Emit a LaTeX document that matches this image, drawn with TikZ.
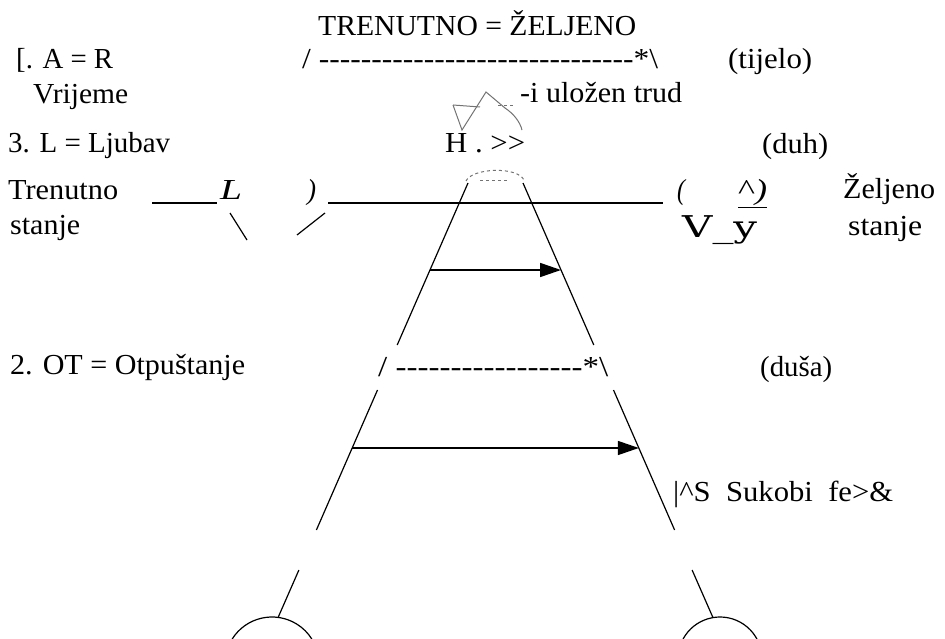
\documentclass[tikz,border=0pt]{standalone}
\usepackage{fontspec}
\setmainfont{Liberation Serif}
\newfontfamily\vyfont{DejaVu Serif}
\usetikzlibrary{arrows.meta}
\newcommand\fitw[2]{\resizebox{#1pt}{\height}{#2}}
\begin{document}
\begin{tikzpicture}[x=1pt,y=-1pt,
  lbl/.style={inner sep=0pt, anchor=base west, font=\fontsize{29}{32}\selectfont},
  edge/.style={line width=1.2pt},
  rule/.style={line width=1.2pt},
  flow/.style={line width=1.7pt, -{Triangle[length=21pt,width=14pt]}},
  faint/.style={line width=1pt, black!55}]
\useasboundingbox (0,0) rectangle (945,639);

% texts
\node[lbl] (title) at (318,36) {\fitw{318}{TRENUTNO = ŽELJENO}};
\node[lbl] (ar) at (16,69) {\fitw{97}{[. A = R}};
\node[lbl] (topdash) at (302,69) {\fitw{356}{/ -{}-{}-{}-{}-{}-{}-{}-{}-{}-{}-{}-{}-{}-{}-{}-{}-{}-{}-{}-{}-{}-{}-{}-{}-{}-{}-{}-{}-{}-*\textbackslash}};
\node[lbl] (tijelo) at (728,69) {\fitw{84}{(tijelo)}};
\node[lbl] (vrijeme) at (33,104) {\fitw{95}{Vrijeme}};
\node[lbl] (trud) at (520,103) {\fitw{162}{-i uložen trud}};
\node[lbl] (ljubav) at (8,153) {\fitw{162}{3. L = Ljubav}};
\node[lbl] (hgt) at (445,153) {\fitw{80}{H . >{}>}};
\node[lbl] (duh) at (762,154) {\fitw{66}{(duh)}};
\node[lbl] (trenutno) at (8,200) {\fitw{110}{Trenutno}};
\node[lbl] (litL) at (220,200) {\fitw{22}{\itshape L}};
\node[lbl] (rpar) at (307,200) {\fitw{9}{\itshape )}};
\node[lbl] (lpar) at (677,200) {\fitw{8}{\itshape (}};
\node[lbl] (caret) at (738,200) {\fitw{29}{\underline{\textasciicircum\itshape )}}};
\node[lbl] (zeljeno) at (843,199) {\fitw{92}{Željeno}};
\node[lbl] (stanjeL) at (10,234) {\fitw{70}{stanje}};
\node[lbl, font=\vyfont\fontsize{30}{32}\selectfont] (vy) at (682,238) {\fitw{75}{V\_y}};
\node[lbl] (stanjeR) at (848,236) {\fitw{74}{stanje}};
\node[lbl] (ot) at (10,374) {\fitw{235}{2. OT = Otpuštanje}};
\node[lbl] (lowdash) at (378,376) {\fitw{230}{/ -{}-{}-{}-{}-{}-{}-{}-{}-{}-{}-{}-{}-{}-{}-{}-{}-*\textbackslash}};
\node[lbl] (dusa) at (760,376) {\fitw{72}{(duša)}};
\node[lbl] (sukobi) at (673,501) {\fitw{220}{|\textasciicircum S\ \ Sukobi\ \ fe>\&}};

% underscore rules and marks
\coordinate (u1a) at (152,203); \coordinate (u1b) at (217,203);
\coordinate (u2a) at (328,203); \coordinate (u2b) at (663,203);
\draw[rule] (u1a) -- (u1b);
\draw[rule] (u2a) -- (u2b);
\coordinate (bs1) at (230,213); \coordinate (bs2) at (247,240);
\coordinate (sl1) at (297,235); \coordinate (sl2) at (325,213);
\draw[rule] (bs1) -- (bs2);
\draw[rule] (sl1) -- (sl2);

% trapezoid sides
\coordinate (L1) at (468,183);   \coordinate (L2) at (397.2,345);
\coordinate (L3) at (377.5,390); \coordinate (L4) at (316.4,530);
\coordinate (L5) at (298.9,570); \coordinate (L6) at (278.3,617);
\coordinate (R1) at (523,183);   \coordinate (R2) at (593.8,345);
\coordinate (R3) at (613.5,390); \coordinate (R4) at (674.6,530);
\coordinate (R5) at (692.1,570); \coordinate (R6) at (712.7,617);
\draw[edge] (L1) -- (L2);
\draw[edge] (L3) -- (L4);
\draw[edge] (L5) -- (L6);
\draw[edge] (R1) -- (R2);
\draw[edge] (R3) -- (R4);
\draw[edge] (R5) -- (R6);

% arrows
\coordinate (a1s) at (430,270); \coordinate (a1e) at (561,270);
\coordinate (a2s) at (352.2,448); \coordinate (a2e) at (638.8,448);
\draw[flow] (a1s) -- (a1e);
\draw[flow] (a2s) -- (a2e);

% bottom arcs
\draw[edge] (272,664) ++(-148:47) arc[start angle=-148, end angle=-32, radius=47];
\draw[edge] (720,659) ++(-151.6:42) arc[start angle=-151.6, end angle=-15, radius=42];

% faint star / crown
\draw[faint] (453,105) -- (462,130) -- (486,92) -- (505,108);
\draw[faint] (453,105) -- (480,107);
\draw[faint] (505,108) .. controls (514,114) and (520,122) .. (522,130);
\draw[faint, dashed] (498,106) -- (515,106);
% faint cap below H
\draw[faint, dashed] (466,181) .. controls (472,168) and (517,166) .. (524,180);
\draw[faint, dashed] (480,181) -- (508,181);
\end{tikzpicture}
\end{document}
